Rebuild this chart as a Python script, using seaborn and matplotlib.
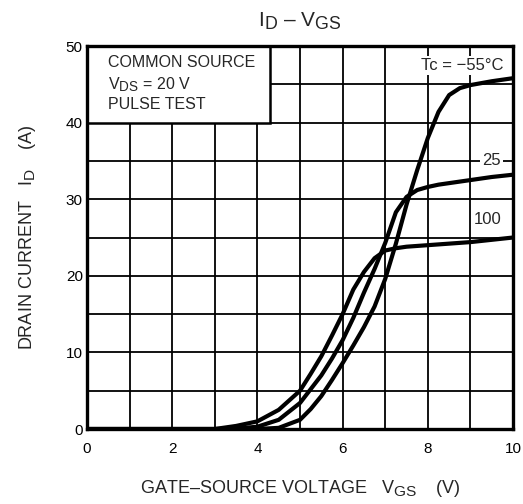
import matplotlib
matplotlib.use("Agg")
from matplotlib import pyplot as plt
from matplotlib.patches import Rectangle
import matplotlib._mathtext as mathtext_internal
import pandas as pd
import seaborn as sns

sns.set_style("white")
plt.rcParams['font.family'] = ['Liberation Sans', 'DejaVu Sans']
plt.rcParams['mathtext.fontset'] = 'custom'
plt.rcParams['mathtext.rm'] = 'Liberation Sans'
# subscripts in the datasheet are nearly full size
mathtext_internal.SHRINK_FACTOR = 0.85

# Values (VGS in V, ID in A)
vgs = [0, 1, 2, 3, 3.5, 4, 4.5, 5, 5.25, 5.5, 5.75, 6, 6.25, 6.5, 6.75,
       7, 7.25, 7.5, 7.75, 8, 8.25, 8.5, 8.75, 9, 9.5, 10]
id_100 = [0, 0, 0, 0, 0.4, 1.0, 2.5, 5.0, 7.2, 9.5, 12.2, 15.0, 18.2, 20.5, 22.3,
          23.3, 23.6, 23.8, 23.9, 24.0, 24.1, 24.2, 24.3, 24.4, 24.7, 25.0]
id_25 = [0, 0, 0, 0, 0.05, 0.3, 1.2, 3.4, 5.2, 7.0, 9.2, 11.6, 14.5, 17.8, 20.9,
         24.3, 28.3, 30.3, 31.2, 31.6, 31.9, 32.1, 32.3, 32.5, 32.9, 33.2]
id_m55 = [0, 0, 0, 0, 0, 0, 0.15, 1.2, 2.6, 4.3, 6.4, 8.6, 10.9, 13.3, 16.0,
          19.6, 24.2, 29.3, 33.8, 38.0, 41.4, 43.6, 44.5, 44.9, 45.4, 45.8]

temps = ["100", "25", "-55"]
curves = [id_100, id_25, id_m55]

rows = []
for t, ids in zip(temps, curves):
    for v, i in zip(vgs, ids):
        rows.append({"VGS": v, "ID": i, "Tc": t})
df = pd.DataFrame(rows)

fig = plt.figure(figsize=(5.23, 5.04), dpi=100)
ax = fig.add_axes([0.1663, 0.1488, 0.8147, 0.7599])

sns.lineplot(data=df, x="VGS", y="ID", units="Tc", estimator=None,
             color="black", linewidth=3.0, ax=ax, zorder=5, legend=False)

ax.set_xlim(0, 10)
ax.set_ylim(0, 50)
ax.set_xticks(range(0, 11, 2))
ax.set_yticks(range(0, 51, 10))
ax.set_xticks(range(0, 11), minor=True)
ax.set_yticks(range(0, 51, 5), minor=True)
ax.grid(True, which="both", color="black", linewidth=1.3, zorder=1)
ax.set_axisbelow(True)
ax.tick_params(which="both", length=0, labelsize=11, colors="black")
ax.tick_params(axis="x", pad=9)
ax.tick_params(axis="y", pad=3)
for s in ax.spines.values():
    s.set_linewidth(2.4)
    s.set_color("black")
    s.set_zorder(6)

# condition box in the upper left corner
ax.add_patch(Rectangle((0, 40), 4.3, 10, facecolor="white", edgecolor="black",
                       linewidth=1.8, zorder=3))
ax.text(0.5, 47.8, "COMMON SOURCE", fontsize=11.5, va="center", ha="left", zorder=4)
ax.text(0.5, 44.9, r"$\mathregular{V_{DS}}$ = 20 V", fontsize=11.5, va="center", ha="left", zorder=4)
ax.text(0.5, 42.3, "PULSE TEST", fontsize=11.5, va="center", ha="left", zorder=4)

box = dict(facecolor="white", edgecolor="none", pad=1.5)
ax.text(8.8, 47.5, "Tc = \u221255\u00b0C", fontsize=12, ha="center", va="center",
        bbox=box, zorder=4)
ax.text(9.5, 35.1, "25", fontsize=12, ha="center", va="center", bbox=box, zorder=4)
ax.text(9.4, 27.3, "100", fontsize=12, ha="center", va="center", bbox=box, zorder=4)

ax.set_title("$\\mathregular{I_D}$ \u2013 $\\mathregular{V_{GS}}$", fontsize=15, pad=14)
ax.set_xlabel("GATE\u2013SOURCE VOLTAGE   $\\mathregular{V_{GS}}$    (V)",
              fontsize=13, labelpad=16)
ax.set_ylabel("DRAIN CURRENT   $\\mathregular{I_D}$    (A)", fontsize=13, labelpad=20)

fig.savefig("out.png", dpi=100)
